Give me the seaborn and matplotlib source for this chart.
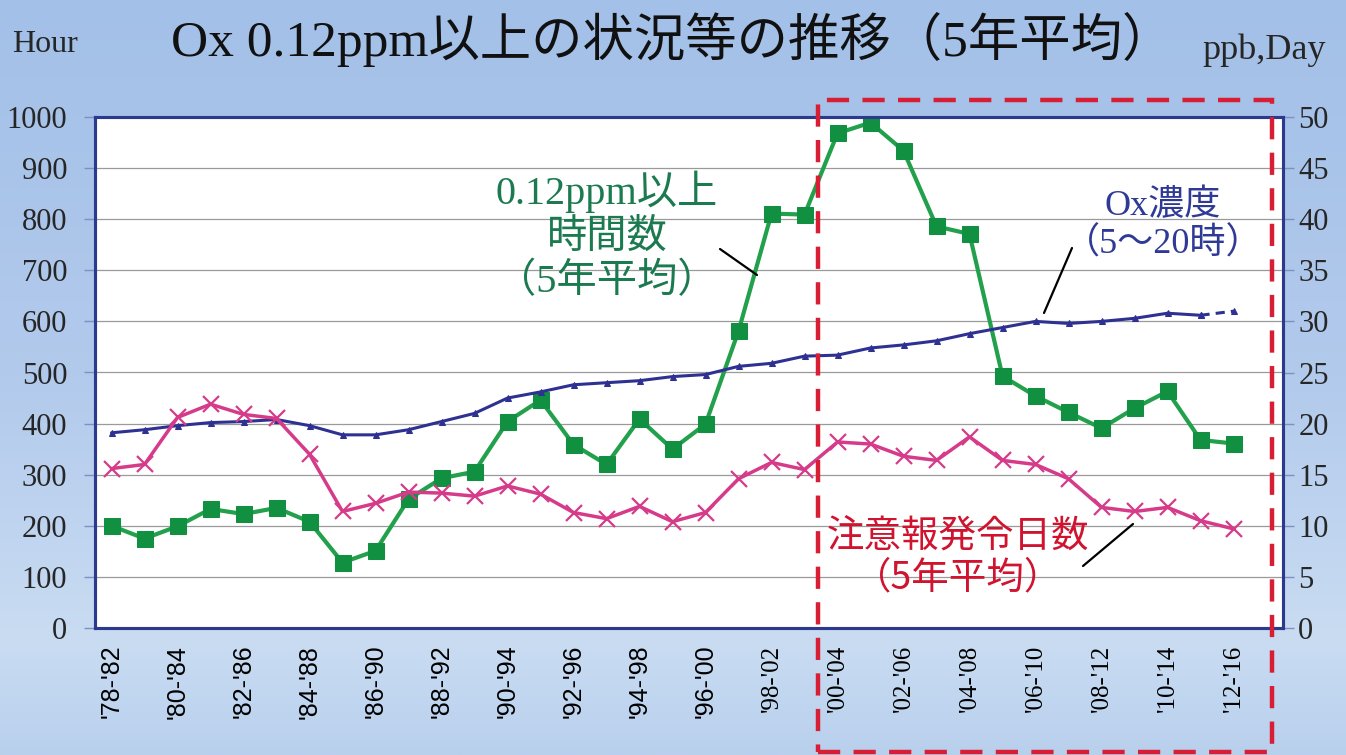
import numpy as np
import pandas as pd
import matplotlib
matplotlib.use('Agg')
import matplotlib.pyplot as plt
import seaborn as sns
from matplotlib.lines import Line2D
from matplotlib.patches import Rectangle
from matplotlib.colors import LinearSegmentedColormap

# ---------------- data ----------------
periods = ["'78-'82", "'79-'83", "'80-'84", "'81-'85", "'82-'86", "'83-'87", "'84-'88",
           "'85-'89", "'86-'90", "'87-'91", "'88-'92", "'89-'93", "'90-'94", "'91-'95",
           "'92-'96", "'93-'97", "'94-'98", "'95-'99", "'96-'00", "'97-'01", "'98-'02",
           "'99-'03", "'00-'04", "'01-'05", "'02-'06", "'03-'07", "'04-'08", "'05-'09",
           "'06-'10", "'07-'11", "'08-'12", "'09-'13", "'10-'14", "'11-'15", "'12-'16"]

hours_over_012 = [200, 175, 199, 233, 223, 235, 208, 128, 151, 252,
                  293, 306, 404, 446, 359, 320, 409, 350, 399, 581,
                  811, 809, 968, 989, 934, 786, 771, 493, 454, 422,
                  391, 430, 463, 368, 361]

alert_days = [15.6, 16.0, 20.6, 21.9, 20.9, 20.5, 17.0, 11.4, 12.2, 13.3,
              13.2, 12.9, 13.9, 13.1, 11.3, 10.7, 11.9, 10.4, 11.3, 14.6,
              16.2, 15.5, 18.2, 18.0, 16.8, 16.4, 18.7, 16.4, 16.0, 14.6,
              11.8, 11.4, 11.8, 10.5, 9.7]

ox_ppb = [19.1, 19.4, 19.8, 20.1, 20.2, 20.4, 19.8, 18.9, 18.9, 19.4,
          20.2, 21.0, 22.5, 23.1, 23.8, 24.0, 24.2, 24.6, 24.8, 25.6,
          25.9, 26.6, 26.7, 27.4, 27.7, 28.1, 28.8, 29.4, 30.0, 29.8,
          30.0, 30.3, 30.8, 30.6, 31.0]

left_ticks = [0, 100, 200, 300, 400, 500, 600, 700, 800, 900, 1000]
right_ticks = [0, 5, 10, 15, 20, 25, 30, 35, 40, 45, 50]

title_text = "Ox 0.12ppm以上の状況等の推移（5年平均）"
green_label = "0.12ppm以上\n時間数\n（5年平均）"
blue_label = "Ox濃度\n（5～20時）"
red_label = "注意報発令日数\n（5年平均）"

# ---------------- style ----------------
sns.set_theme(style="white")
plt.rcParams['font.family'] = ['Liberation Serif', 'Noto Sans CJK JP', 'DejaVu Sans']
JP = ['Noto Sans CJK JP', 'DejaVu Sans']
SER = ['Liberation Serif', 'Noto Sans CJK JP', 'DejaVu Sans']

W, H = 1346, 755
fig = plt.figure(figsize=(W / 100, H / 100), dpi=100)

def fx(x):
    return x / W

def fy(y):
    return 1 - y / H

# background gradient
bg = fig.add_axes([0, 0, 1, 1], zorder=-10)
cmap = LinearSegmentedColormap.from_list(
    'bg', [(0.0, '#a3c0e8'), (0.5, '#b2caec'), (0.85, '#c9dcf2'), (1.0, '#b9d0ed')])
grad = np.linspace(0, 1, 256).reshape(-1, 1)
bg.imshow(grad, aspect='auto', cmap=cmap, extent=[0, 1, 0, 1], origin='upper')
bg.set_axis_off()

# main axes
ax = fig.add_axes([fx(95), fy(628), fx(1283) - fx(95), fy(117) - fy(628)])
ax.set_facecolor('white')
ax2 = ax.twinx()

df = pd.DataFrame({'idx': np.arange(len(periods)), 'period': periods,
                   'hours': hours_over_012, 'days': alert_days, 'ppb': ox_ppb})

green_line = '#22a04c'
green_mk = '#109040'
pink = '#d63b8a'
navy = '#2e3192'
spine_col = '#2b3a8f'

sns.lineplot(data=df, x='idx', y='hours', ax=ax, color=green_line, lw=3,
             marker='s', markersize=12, markerfacecolor=green_mk,
             markeredgecolor=green_mk, zorder=5)

sns.lineplot(data=df.iloc[:34], x='idx', y='ppb', ax=ax2, color=navy, lw=2.2,
             marker='^', markersize=4, markeredgecolor=navy, zorder=3)
sns.lineplot(data=df.iloc[33:], x='idx', y='ppb', ax=ax2, color=navy, lw=2.2,
             linestyle=(0, (3, 2)), marker='^', markersize=4, markeredgecolor=navy,
             zorder=3)
sns.lineplot(data=df, x='idx', y='days', ax=ax2, color=pink, lw=2.5,
             marker='x', markersize=12, markeredgewidth=1.6, markeredgecolor=pink,
             zorder=4)

n_slots = len(periods) + 1
ax.set_xlim(-0.5, n_slots - 0.5)
ax.set_ylim(0, 1000)
ax2.set_ylim(0, 50)

# grid
ax.set_yticks(left_ticks)
ax.yaxis.grid(True, color='#9a9a9a', lw=0.9)
ax.xaxis.grid(False)
ax.set_axisbelow(True)
ax2.set_yticks(right_ticks)
ax2.grid(False)

ax.set_xlabel('')
ax.set_ylabel('')
ax2.set_xlabel('')
ax2.set_ylabel('')

# x ticks: labels every other category, tick marks at category boundaries
ax.set_xticks(df['idx'][::2])
ax.set_xticklabels(df['period'][::2], rotation=90)
ax.set_xticks(np.arange(-0.5, n_slots, 1.0), minor=True)
ax.tick_params(axis='x', which='major', length=0, pad=12, labelsize=18, colors='black')
ax.tick_params(axis='x', which='minor', length=8, width=1.2, color=spine_col, direction='out')
for i, lab in enumerate(ax.get_xticklabels()):
    lab.set_family(['Liberation Sans'] if i < 10 else ['Liberation Serif'])
ax.tick_params(axis='y', which='major', length=8, width=1, color='#7f8fbf',
               direction='out', labelsize=22, pad=12)
ax2.tick_params(axis='y', which='major', length=8, width=1, color='#7f8fbf',
                direction='out', labelsize=22, pad=3)
for lab in ax.get_yticklabels() + ax2.get_yticklabels():
    lab.set_family(SER)

for a in (ax, ax2):
    for s in a.spines.values():
        s.set_color(spine_col)
        s.set_linewidth(2.2)
        s.set_visible(True)

# texts
fig.text(fx(672), fy(40), title_text, ha='center', va='center', fontsize=37,
         family=SER, color='#111111')
fig.text(fx(12), fy(45), 'Hour', ha='left', va='center', fontsize=23, family=SER)
fig.text(fx(1326), fy(50), 'ppb,Day', ha='right', va='center', fontsize=26, family=SER)

fig.text(fx(607), fy(236), green_label, ha='center', va='center', fontsize=29,
         family=SER, color='#1b7a4f', linespacing=1.22, multialignment='center')
fig.text(fx(1163), fy(226), blue_label, ha='center', va='center', fontsize=26,
         family=SER, color='#2e3a95', linespacing=1.15, multialignment='center')
fig.text(fx(958), fy(557), red_label, ha='center', va='center', fontsize=27,
         family=JP, color='#d0142f', linespacing=1.1, multialignment='center')

# leader lines
for (x0, y0, x1, y1) in [(720, 249, 757, 275), (1072, 248, 1044, 313), (1083, 566, 1133, 524)]:
    fig.add_artist(Line2D([fx(x0), fx(x1)], [fy(y0), fy(y1)], transform=fig.transFigure,
                          color='black', lw=1.6, zorder=20))

# red dashed highlight box
box = Rectangle((fx(818), fy(752)), fx(1272) - fx(818), fy(100) - fy(752),
                transform=fig.transFigure, fill=False, edgecolor='#d81e34', lw=3.2,
                linestyle=(0, (5, 3)), zorder=30)
fig.add_artist(box)

fig.savefig('out.png', dpi=100)
